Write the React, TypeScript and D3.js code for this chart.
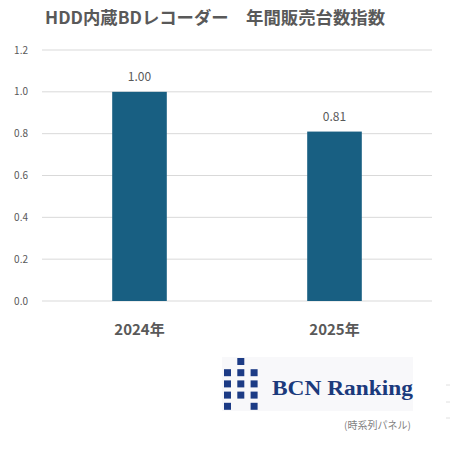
import React from "react";
import * as d3 from "d3";

const categories = ["2024年", "2025年"];
const values = [1.0, 0.81];
const yTicks = [0, 0.2, 0.4, 0.6, 0.8, 1.0, 1.2];
const title = "HDD内蔵BDレコーダー　年間販売台数指数";
const caption = "(時系列パネル)";
const logoText = "BCN Ranking";
// logo grid: [col,row]
const logoCells: [number, number][] = [
  [1, 0],
  [0, 1], [1, 1], [2, 1],
  [0, 2], [1, 2], [2, 2],
  [0, 3], [1, 3], [2, 3],
  [0, 4], [2, 4],
];

export default function App() {
  const W = 450, H = 450;
  const x = d3.scaleBand<string>().domain(categories).range([42, 432]).paddingInner(0.72).paddingOuter(0.36);
  const y = d3.scaleLinear().domain([0, 1.2]).range([301, 50]);
  const gray = "#595959";
  const font = "'Noto Sans CJK JP', 'Noto Sans', sans-serif";
  return (
    <svg width={W} height={H} style={{ position: "absolute", left: 0, top: 0, background: "#fff" }}>
      <text x={45} y={24} fontFamily={font} fontWeight="bold" fontSize={17} fill={gray} textLength={340} lengthAdjust="spacingAndGlyphs">{title}</text>
      {yTicks.map((t) => (
        <g key={t}>
          <line x1={42} x2={432} y1={y(t)} y2={y(t)} stroke="#d9d9d9" strokeWidth={1} />
          <text x={28} y={y(t)} dy="0.35em" textAnchor="end" fontFamily={font} fontSize={10} fill={gray}>{t.toFixed(1)}</text>
        </g>
      ))}
      {categories.map((c, i) => (
        <g key={c}>
          <rect x={x(c)!} y={y(values[i])} width={x.bandwidth()} height={y(0) - y(values[i])} fill="#185f82" />
          <text x={x(c)! + x.bandwidth() / 2} y={y(values[i]) - 11} textAnchor="middle" fontFamily={font} fontSize={12} fill={gray}>{values[i].toFixed(2)}</text>
          <text x={x(c)! + x.bandwidth() / 2} y={335} textAnchor="middle" fontFamily={font} fontWeight="bold" fontSize={15} fill={gray}>{c}</text>
        </g>
      ))}
      <rect x={222} y={357} width={191} height={54} fill="#f8f8fa" />
      {logoCells.map(([cx, cy], i) => (
        <rect key={i} x={224 + cx * 13.3} y={358 + cy * 11.2} width={7} height={7} fill="#1c3b85" />
      ))}
      <text x={272} y={395} fontFamily="'Liberation Serif', 'DejaVu Serif', serif" fontWeight="bold" fontSize={20} fill="#1b3a7c" textLength={141} lengthAdjust="spacingAndGlyphs">{logoText}</text>
      <text x={344} y={429} fontFamily={font} fontSize={10} fill="#7f7f7f">{caption}</text>
      {[385, 402, 418].map((yy) => (
        <line key={yy} x1={446} x2={450} y1={yy} y2={yy} stroke="#e0e0e0" />
      ))}
    </svg>
  );
}
